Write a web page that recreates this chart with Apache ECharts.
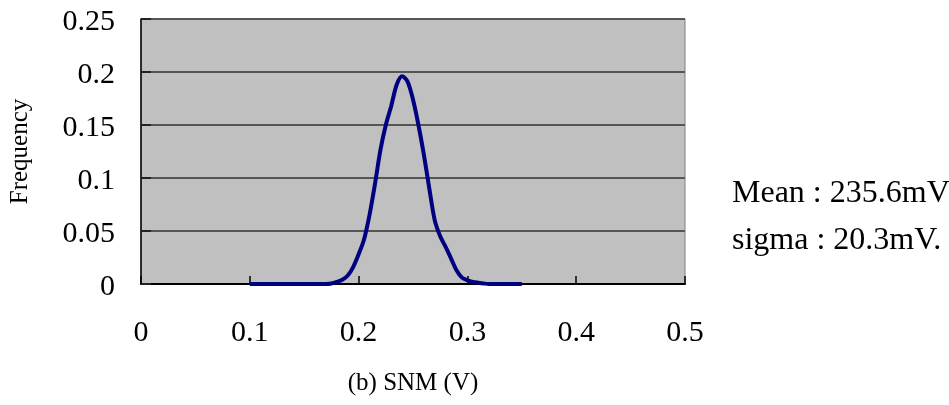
<!DOCTYPE html>
<html><head><meta charset="utf-8">
<script src="https://cdn.jsdelivr.net/npm/echarts@6/dist/echarts.min.js"></script>
<style>html,body{margin:0;padding:0;background:#fff}#c{width:949px;height:405px}</style>
</head><body><div id="c"></div>
<script>
var snm = [0.100,0.105,0.110,0.115,0.120,0.125,0.130,0.135,0.140,0.145,0.150,0.155,0.160,0.165,0.170,0.175,0.180,0.185,0.190,0.195,0.200,0.205,0.210,0.215,0.220,0.225,0.230,0.235,0.240,0.245,0.250,0.255,0.260,0.265,0.270,0.275,0.280,0.285,0.290,0.295,0.300,0.305,0.310,0.315,0.320,0.325,0.330,0.335,0.340,0.345,0.350];
var freq = [0,0,0,0,0,0,0,0,0,0,0,0,0,0,0,0.0005,0.002,0.004,0.008,0.016,0.028,0.042,0.065,0.094,0.126,0.150,0.168,0.188,0.196,0.191,0.174,0.150,0.122,0.090,0.060,0.045,0.035,0.024,0.013,0.006,0.0035,0.002,0.0012,0.0005,0,0,0,0,0,0,0];
var xTitle = '(b) SNM (V)';
var yTitle = 'Frequency';
var notes = ['Mean : 235.6mV', 'sigma : 20.3mV.'];

var font = '"Liberation Serif","DejaVu Serif",serif';
var chart = echarts.init(document.getElementById('c'));
chart.setOption({
  animation: false,
  grid: {left: 141, top: 19, right: 264, bottom: 121, show: true, backgroundColor: '#C0C0C0', borderColor: '#808080', borderWidth: 1},
  xAxis: {
    type: 'value', min: 0, max: 0.5, interval: 0.1,
    name: xTitle, nameLocation: 'middle', nameGap: 87,
    nameTextStyle: {fontFamily: font, fontSize: 25, color: '#000', verticalAlign: 'top'},
    axisLine: {show: true, onZero: false, lineStyle: {color: '#000', width: 2}},
    axisTick: {show: true, inside: true, length: 8, lineStyle: {color: '#000', width: 1.5}},
    axisLabel: {fontFamily: font, fontSize: 30, color: '#000', margin: 34, formatter: function(v){return String(+v.toFixed(2));}},
    splitLine: {show: false}
  },
  yAxis: {
    type: 'value', min: 0, max: 0.25, interval: 0.05,
    name: yTitle, nameLocation: 'middle', nameGap: 108, nameRotate: 90,
    nameTextStyle: {fontFamily: font, fontSize: 25, color: '#000'},
    axisLine: {show: true, lineStyle: {color: '#000', width: 1.5}},
    axisTick: {show: true, inside: true, length: 10, lineStyle: {color: '#222', width: 2}},
    axisLabel: {fontFamily: font, fontSize: 30, color: '#000', margin: 26, verticalAlign: 'top', lineHeight: 7, formatter: function(v){return String(+v.toFixed(2));}},
    splitLine: {show: true, lineStyle: {color: '#555', width: 2}}
  },
  series: [{
    type: 'line', smooth: 0.3, showSymbol: false,
    data: snm.map(function(x, i){return [x, freq[i]];}),
    lineStyle: {color: '#000080', width: 4}
  }],
  graphic: [
    {type: 'text', left: 732, top: 178, style: {text: notes[0], font: '32px ' + font, fill: '#000'}},
    {type: 'text', left: 732, top: 225, style: {text: notes[1], font: '32px ' + font, fill: '#000'}}
  ]
});
</script></body></html>
